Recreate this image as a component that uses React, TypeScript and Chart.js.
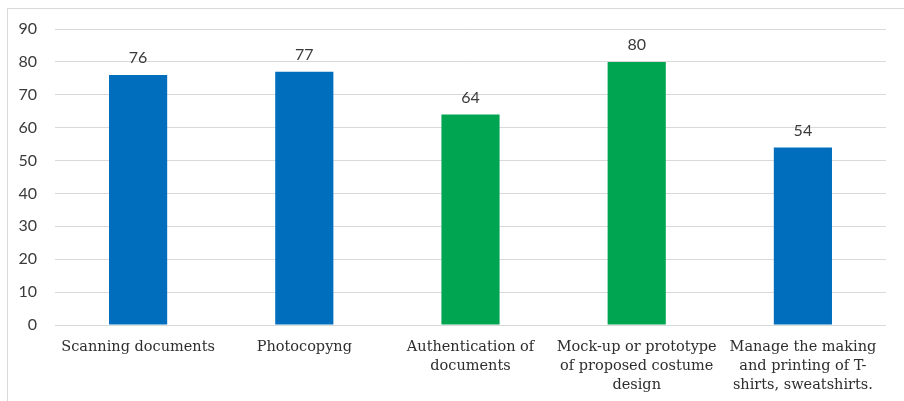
import React, { useEffect, useRef } from "react";
import { Chart, registerables } from "chart.js";

Chart.register(...registerables);

const categories: string[][] = [
  ["Scanning documents"],
  ["Photocopyng"],
  ["Authentication of", "documents"],
  ["Mock-up or prototype", "of proposed costume", "design"],
  ["Manage the making", "and printing of T-", "shirts, sweatshirts."],
];
const values: number[] = [76, 77, 64, 80, 54];
const BLUE = "#006EBD";
const GREEN = "#00A551";
const barColors: string[] = [BLUE, BLUE, GREEN, GREEN, BLUE];
const yMin = 0;
const yMax = 90;
const yStep = 10;

const valueLabels = {
  id: "valueLabels",
  afterDatasetsDraw(chart: any) {
    const ctx = chart.ctx;
    const meta = chart.getDatasetMeta(0);
    ctx.save();
    ctx.font = "16px Lato, 'Liberation Sans', sans-serif";
    ctx.fillStyle = "#3a3a3a";
    ctx.textAlign = "center";
    ctx.textBaseline = "bottom";
    meta.data.forEach((el: any, i: number) => {
      ctx.fillText(String(chart.data.datasets[0].data[i]), el.x, el.y - 9);
    });
    ctx.restore();
  },
};

export default function App() {
  const ref = useRef<HTMLCanvasElement | null>(null);
  useEffect(() => {
    document.body.style.margin = "0";
    const chart = new Chart(ref.current as HTMLCanvasElement, {
      type: "bar",
      data: {
        labels: categories,
        datasets: [
          {
            data: values,
            backgroundColor: barColors,
            barPercentage: 0.35,
            categoryPercentage: 1,
          },
        ],
      },
      plugins: [valueLabels],
      options: {
        animation: false,
        responsive: false,
        maintainAspectRatio: false,
        layout: { padding: { left: 0, right: 18, top: 29, bottom: 0 } },
        plugins: { legend: { display: false }, tooltip: { enabled: false } },
        scales: {
          x: {
            grid: { display: false, drawTicks: false },
            border: { display: false },
            ticks: {
              padding: 13,
              color: "#2e2e2e",
              font: { family: "'DejaVu Serif', serif", size: 14.5, lineHeight: 1.3 },
              maxRotation: 0,
              autoSkip: false,
            },
            afterFit: (s: any) => {
              s.height = 76;
            },
          },
          y: {
            min: yMin,
            max: yMax,
            grid: { color: "#d9d9d9", drawTicks: false, lineWidth: 1 },
            border: { display: false },
            ticks: {
              stepSize: yStep,
              padding: 18,
              color: "#3a3a3a",
              font: { family: "Lato, 'Liberation Sans', sans-serif", size: 16 },
            },
            afterFit: (s: any) => {
              s.width = 55;
            },
          },
        },
      },
    });
    return () => chart.destroy();
  }, []);
  return (
    <div style={{ position: "relative", width: 904, height: 401, overflow: "hidden", background: "#fff" }}>
      <div
        style={{
          position: "absolute",
          left: 7,
          top: 8,
          width: 1000,
          height: 500,
          border: "1px solid #d9d9d9",
          boxSizing: "border-box",
        }}
      />
      <canvas ref={ref} width={904} height={401} style={{ position: "absolute", left: 0, top: 0 }} />
    </div>
  );
}
